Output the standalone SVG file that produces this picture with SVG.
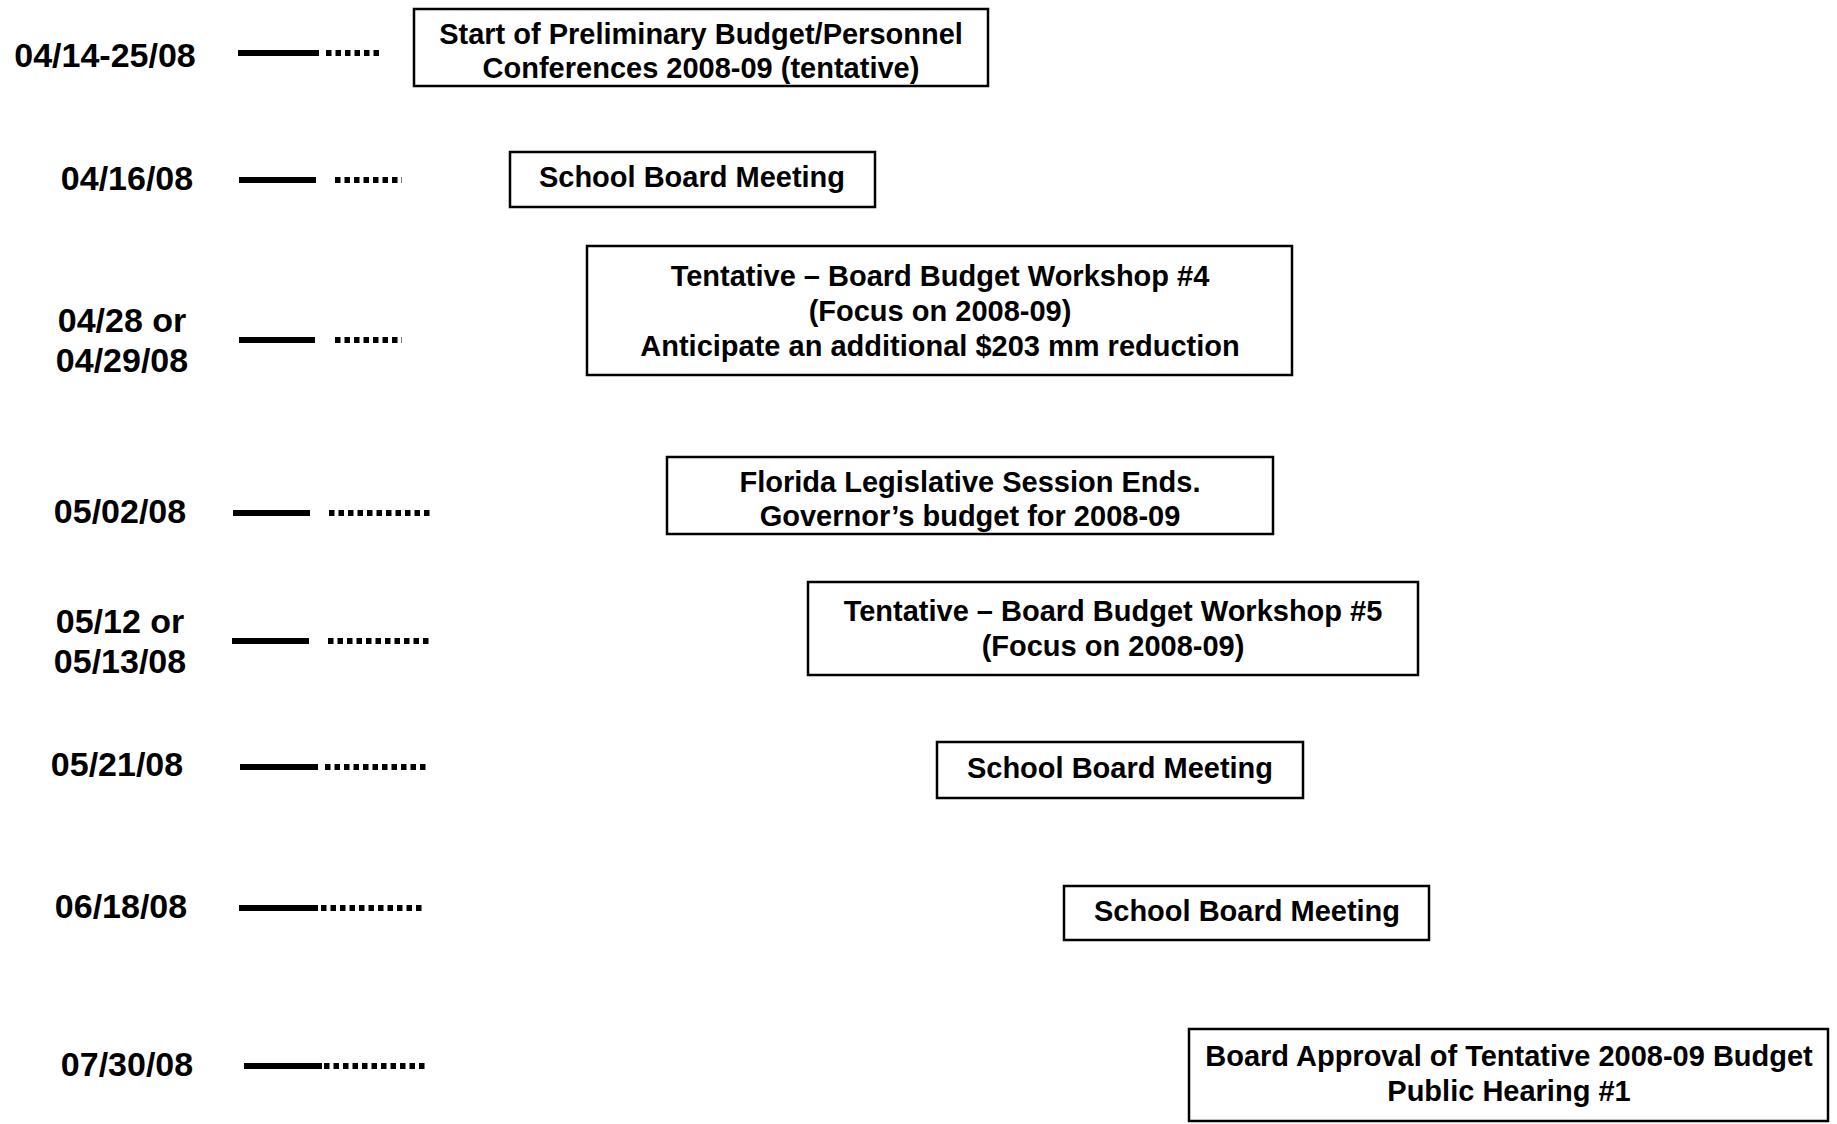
<svg xmlns="http://www.w3.org/2000/svg" width="1837" height="1124" viewBox="0 0 1837 1124">
<style>
.lbl{font-family:"Liberation Sans",Arial,sans-serif;font-weight:bold;font-size:34px;fill:#000;text-anchor:middle}
.txt{font-family:"Liberation Sans",Arial,sans-serif;font-weight:bold;font-size:29px;fill:#000;text-anchor:middle}
.box{fill:#fff;stroke:#000;stroke-width:2.5}
.solid{stroke:#000;stroke-width:6;fill:none}
.dot{stroke:#000;stroke-width:6;stroke-dasharray:5.5 4;fill:none}
</style>
<rect width="1837" height="1124" fill="#fff"/>
<g id="connectors">
<line class="solid" x1="238" y1="53" x2="319" y2="53"/><line class="dot" x1="326" y1="53" x2="383" y2="53"/>
<line class="solid" x1="239" y1="180" x2="316" y2="180"/><line class="dot" x1="335" y1="180" x2="402" y2="180"/>
<line class="solid" x1="239" y1="340" x2="315" y2="340"/><line class="dot" x1="335" y1="340" x2="402" y2="340"/>
<line class="solid" x1="233" y1="513" x2="310" y2="513"/><line class="dot" x1="329" y1="513" x2="431" y2="513"/>
<line class="solid" x1="232" y1="641" x2="309" y2="641"/><line class="dot" x1="328" y1="641" x2="431" y2="641"/>
<line class="solid" x1="240" y1="767" x2="318" y2="767"/><line class="dot" x1="325" y1="767" x2="428" y2="767"/>
<line class="solid" x1="239" y1="908" x2="318" y2="908"/><line class="dot" x1="321" y1="908" x2="424" y2="908"/>
<line class="solid" x1="244" y1="1066" x2="322" y2="1066"/><line class="dot" x1="324" y1="1066" x2="427" y2="1066"/>
</g>
<g id="date1"><text class="lbl" x="105" y="67">04/14-25/08</text></g>
<g id="date2"><text class="lbl" x="127" y="190">04/16/08</text></g>
<g id="date3"><text class="lbl" x="122" y="332">04/28 or</text><text class="lbl" x="122" y="372">04/29/08</text></g>
<g id="date4"><text class="lbl" x="120" y="523">05/02/08</text></g>
<g id="date5"><text class="lbl" x="120" y="633">05/12 or</text><text class="lbl" x="120" y="673">05/13/08</text></g>
<g id="date6"><text class="lbl" x="117" y="776">05/21/08</text></g>
<g id="date7"><text class="lbl" x="121" y="918">06/18/08</text></g>
<g id="date8"><text class="lbl" x="127" y="1076">07/30/08</text></g>
<g id="event1"><rect class="box" x="414" y="9" width="574" height="77"/><text class="txt" x="701" y="44">Start of Preliminary Budget/Personnel</text><text class="txt" x="701" y="78">Conferences 2008-09 (tentative)</text></g>
<g id="event2"><rect class="box" x="510" y="152" width="365" height="55"/><text class="txt" x="692" y="187">School Board Meeting</text></g>
<g id="event3"><rect class="box" x="587" y="246" width="705" height="129"/><text class="txt" x="940" y="286">Tentative – Board Budget Workshop #4</text><text class="txt" x="940" y="321">(Focus on 2008-09)</text><text class="txt" x="940" y="356">Anticipate an additional $203 mm reduction</text></g>
<g id="event4"><rect class="box" x="667" y="457" width="606" height="77"/><text class="txt" x="970" y="492">Florida Legislative Session Ends.</text><text class="txt" x="970" y="526">Governor’s budget for 2008-09</text></g>
<g id="event5"><rect class="box" x="808" y="582" width="610" height="93"/><text class="txt" x="1113" y="621">Tentative – Board Budget Workshop #5</text><text class="txt" x="1113" y="656">(Focus on 2008-09)</text></g>
<g id="event6"><rect class="box" x="937" y="742" width="366" height="56"/><text class="txt" x="1120" y="778">School Board Meeting</text></g>
<g id="event7"><rect class="box" x="1064" y="886" width="365" height="54"/><text class="txt" x="1247" y="921">School Board Meeting</text></g>
<g id="event8"><rect class="box" x="1189" y="1029" width="639" height="92"/><text class="txt" x="1509" y="1066">Board Approval of Tentative 2008-09 Budget</text><text class="txt" x="1509" y="1101">Public Hearing #1</text></g>
</svg>
